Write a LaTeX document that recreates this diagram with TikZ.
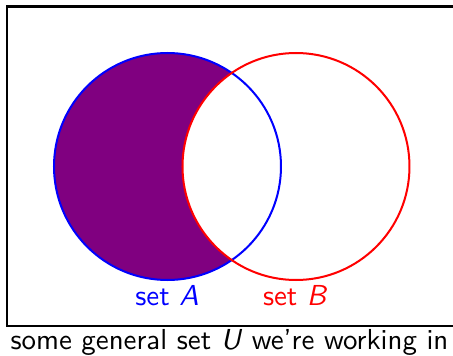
\documentclass[tikz,border=0pt]{standalone}
\definecolor{setfill}{RGB}{128,0,128}
\begin{document}
\begin{tikzpicture}[x=0.3788pt,y=-0.3788pt,
  txt/.style={font=\fontsize{10.95}{13}\selectfont\sffamily, inner sep=0pt, anchor=base},
  circ/.style={line width=0.76pt}]
\clip (0,0) rectangle (453,356);
\draw[line width=0.8pt] (6.7,6.5) rectangle (480,325.7);
\coordinate (ca) at (167.5,166.5);
\coordinate (cb) at (296,166.5);
\fill[setfill] (ca) circle[radius=113.5];
\fill[white] (cb) circle[radius=113.5];
\draw[circ, blue] (ca) circle[radius=113.5];
\draw[circ, red] (cb) circle[radius=113.5];
\node[txt, text=blue] (la) at (167,306) {set \textit{A}};
\node[txt, text=red] (lb) at (295.3,306) {set \textit{B}};
\node[txt] (lu) at (229.5,350) {some general set \textit{U} we're working in};
\end{tikzpicture}
\end{document}
